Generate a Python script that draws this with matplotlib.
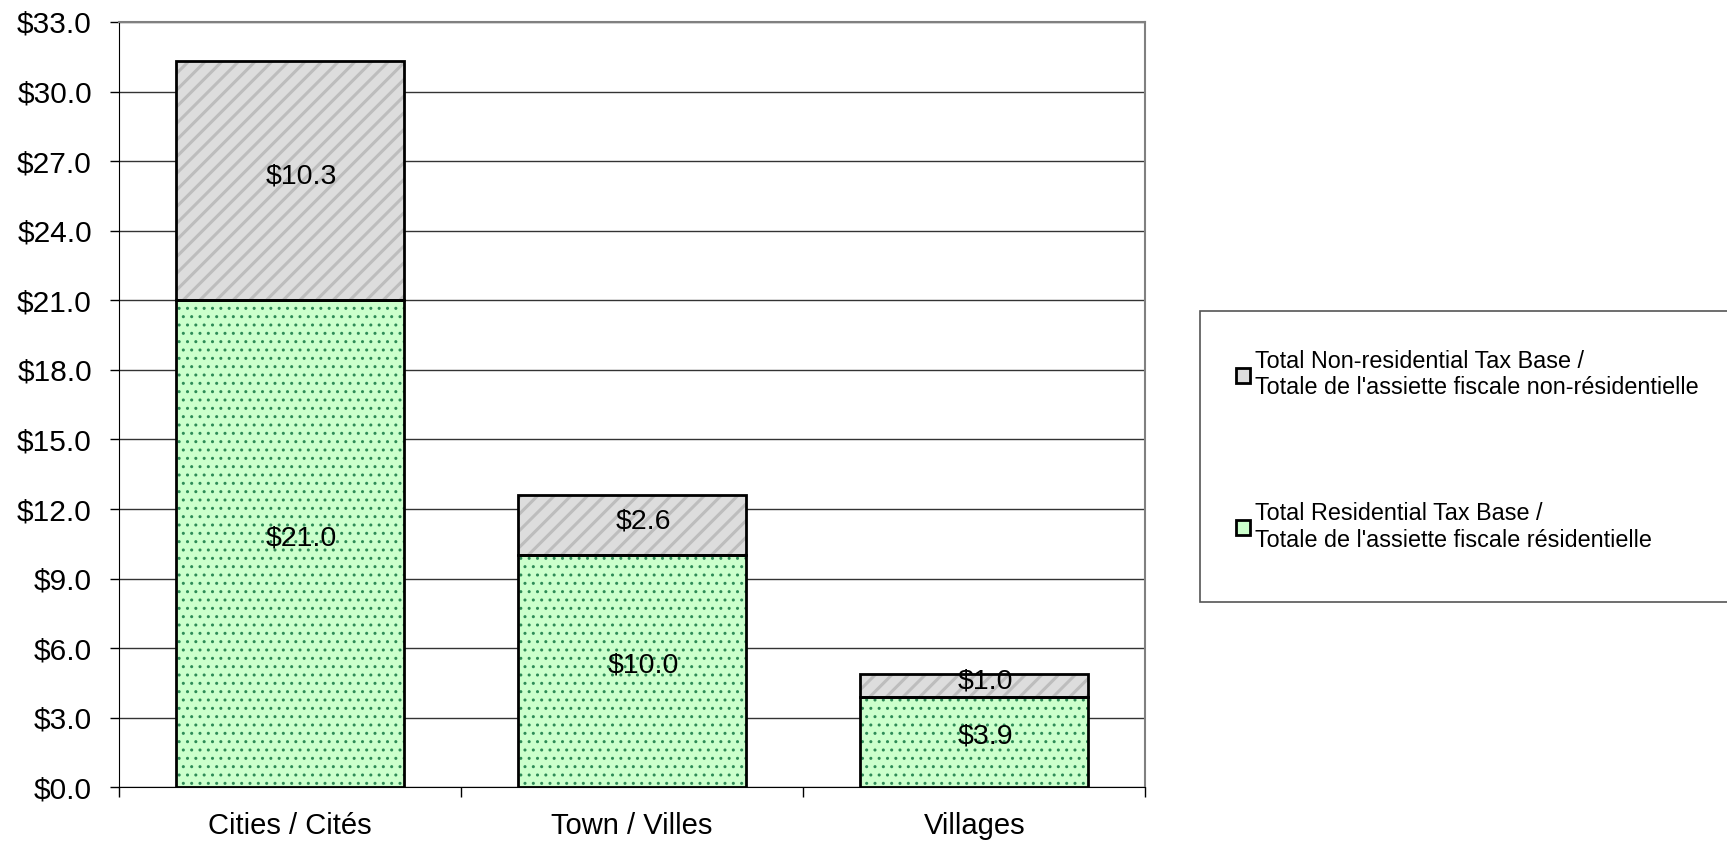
import numpy as np
import matplotlib.pyplot as plt
import matplotlib as mpl

plt.rcParams['font.family'] = ['Liberation Sans', 'DejaVu Sans']

categories = ["Cities / Cités", "Town / Villes", "Villages"]
residential = [21.0, 10.0, 3.9]
non_residential = [10.3, 2.6, 1.0]
labels = ["Total Non-residential Tax Base /\nTotale de l'assiette fiscale non-résidentielle",
          "Total Residential Tax Base /\nTotale de l'assiette fiscale résidentielle"]
yticks = np.arange(0, 34, 3)

fig = plt.figure(figsize=(17.27, 8.43), dpi=100)
ax = fig.add_axes([0.0689, 0.066, 0.5943, 0.908])

x = np.arange(len(categories))
w = 0.667
green_fill, green_dot = "#CCFFCC", "#2E8B57"
grey_fill, grey_hatch = "#DDDDDD", "#BDBDBD"

ax.set_axisbelow(True)
ax.yaxis.grid(True, color="#333333", lw=1.0)

# hatched fills (hatch colour follows edgecolor), black outline drawn separately
mpl.rcParams['hatch.linewidth'] = 1.0
ax.bar(x, residential, w, color=green_fill, edgecolor=green_dot, hatch="..", lw=0)
mpl.rcParams['hatch.linewidth'] = 2.2
ax.bar(x, non_residential, w, bottom=residential, color=grey_fill,
       edgecolor=grey_hatch, hatch="//", lw=0)
ax.bar(x, residential, w, fill=False, edgecolor="black", lw=2)
ax.bar(x, non_residential, w, bottom=residential, fill=False, edgecolor="black", lw=2)

# value labels, slightly right of centre like the Excel original
for i in range(len(categories)):
    ax.annotate(f"${residential[i]:.1f}", (x[i], residential[i] / 2), xytext=(8, 4),
                textcoords="offset points", ha="center", va="center", fontsize=20.5)
    ax.annotate(f"${non_residential[i]:.1f}", (x[i], residential[i] + non_residential[i] / 2),
                xytext=(8, 3), textcoords="offset points", ha="center", va="center", fontsize=20.5)

ax.set_xlim(-0.5, 2.5)
ax.set_ylim(0, 33)
ax.set_yticks(yticks)
ax.set_yticklabels([f"${v:.1f}" for v in yticks], fontsize=21.5)
ax.set_xticks(x)
ax.set_xticklabels(categories, fontsize=21)
ax.tick_params(axis="x", length=0, pad=18)
ax.set_xticks(np.arange(-0.5, 3, 1), minor=True)
ax.tick_params(axis="x", which="minor", length=7, width=1, direction="out")
ax.tick_params(axis="y", length=6.5, width=1, direction="out", pad=13)
for s in ["top", "right"]:
    ax.spines[s].set_color("#808080")
    ax.spines[s].set_linewidth(1.5)
ax.spines["left"].set_color("black")
ax.spines["bottom"].set_color("black")

# legend box (runs off the right edge, as in the original)
frame = mpl.patches.Rectangle((0.695, 0.286), 0.33, 0.345, transform=fig.transFigure,
                              facecolor="white", edgecolor="#555555", lw=1.2, clip_on=False)
fig.add_artist(frame)

mpl.rcParams['hatch.linewidth'] = 1.0
h1 = mpl.patches.Rectangle((0, 0), 1, 1, facecolor=grey_fill, edgecolor="black", lw=2)
h2 = mpl.patches.Rectangle((0, 0), 1, 1, facecolor=green_fill, edgecolor="black", lw=2)
leg = fig.legend([h1, h2], labels, loc="upper left", bbox_to_anchor=(0.7157, 0.585),
                 fontsize=16.8, frameon=False,
                 handlelength=0.6, handleheight=0.6, handletextpad=0.2,
                 labelspacing=4.4, borderpad=0, borderaxespad=0)

fig.savefig("out.png", dpi=100)
